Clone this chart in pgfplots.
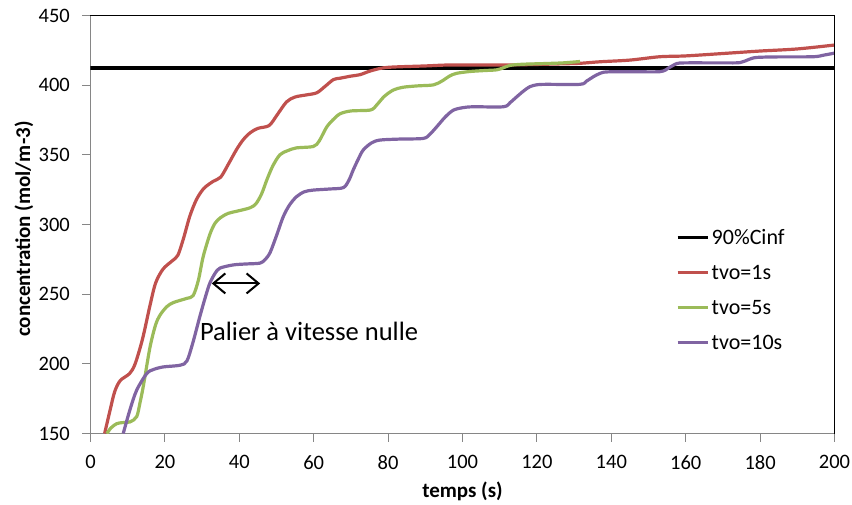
\documentclass[border=0pt]{standalone}
\usepackage{pgfplots}
\pgfplotsset{compat=1.18}
\usepackage{fontspec}
\setmainfont{Carlito}
\usetikzlibrary{arrows.meta}
\definecolor{cred}{HTML}{C0504D}
\definecolor{cgreen}{HTML}{9BBB59}
\definecolor{cpurple}{HTML}{8064A2}
\definecolor{axgray}{HTML}{868686}

\pgfplotstableread{
x y
3.8 150
5.2 166
6.5 180
8 188
10.5 193
12 200
14 218
16 242
17.5 258
19.5 268
22 274
23.5 278
25 290
26.7 306
28.5 318
30.5 326
33 331
35 334
37 343
39.3 354
41.1 361
43 366
45 369
48 371
50 378
52.7 388
55 391.5
58 393
60.8 394.5
63 399
65.3 404
67.1 405
70 406.5
72.4 407.5
75 410
77.8 412
80 412.8
83 413.2
90 413.8
96.6 414.5
108 414.5
115 414.6
125 415.2
131.6 415.7
137 416.8
145 418
153 420.4
160 421
171 422.9
180 424.5
190 426
200 428.8
}\redtab

\pgfplotstableread{
x y
4.4 150
5.5 154
7 157
8.5 157.8
10.6 158.3
12.4 162
13.3 172
14.2 184
16 212
17.5 228
18.7 235
20.5 241
22.3 244
25.9 247
27.6 249
29 260
30.3 277
32.1 293
33.5 301
35 305
37 308
39.3 309.5
42.9 312
44.5 315
46 322
47.4 332
49 342
50.9 350
53 353
55.4 355
59.9 356
61.5 360
63.5 370
65.5 376
67.1 379.5
70 381.5
75.3 382.2
77 386
79 392
81.4 396.5
84 398.5
88 399.5
92.2 400.2
94.5 403
96.5 406.5
98.4 408.5
102 409.8
106 410.5
109.2 411
111 412.5
112.8 414.2
116 415
122 415.5
127 416
131.6 417
}\greentab

\pgfplotstableread{
x y
8.8 150
10.6 167
12.4 181
15.1 193
17 196
19.6 197.8
24.1 199
25.9 202
27.5 215
29.4 234
31 249
32.1 258
33.5 265
34.8 268.7
38.4 271
42 271.7
45.6 272.3
47 275
48.3 280
50 292
51.8 305.5
53.5 314
55.4 320
57.5 323.5
59.9 324.7
64.4 325.5
68 326.5
69.5 332
70.6 339
72 347
73.3 353.4
75.5 358.5
77.8 360.6
83 361.3
89.5 361.8
91.3 365
93.1 370.2
95.3 377
97.5 382
100 383.8
102.9 384.5
111 384.5
112.8 387.5
114.6 391.7
116.5 396
118.1 398.9
120 400.3
122.6 400.6
131.6 400.6
133.4 403
135.2 406.1
137 408.5
138.8 409.5
145 409.7
153.1 409.7
155.5 412.5
157.6 415.5
160 416
170 416
174.6 416.2
177 418.5
179.1 419.9
185 420.3
194.3 420.4
197 421.5
200 423
}\purpletab

\begin{document}
\begin{tikzpicture}
\begin{axis}[
 scale only axis, width=744pt, height=418pt,
 at={(0,0)}, anchor=south west,
 xmin=0, xmax=200, ymin=150, ymax=450,
 xtick={0,20,...,200}, ytick={150,200,...,450},
 axis x line*=bottom, axis y line*=left,
 axis line style={axgray, line width=1pt, -},
 tick style={axgray, line width=1pt},
 major tick length=8pt, tick align=outside,
 /pgf/number format/assume math mode=true,
 ticklabel style={font=\fontsize{20.5}{24}\selectfont, inner sep=0pt},
 yticklabel shift=12.5pt,
 xticklabel shift=13.7pt,
 xlabel={temps (s)},
 ylabel={concentration (mol/m-3)},
 label style={font=\bfseries\fontsize{21}{25}\selectfont, inner sep=0pt},
 xlabel style={at={(axis description cs:0.5,-0.1543)}, anchor=base},
 ylabel style={at={(axis description cs:-0.0813,0.489)}, anchor=base},
 legend cell align=left,
 legend style={draw=none, fill=none, at={(rel axis cs:0.787,0.489)}, anchor=north west,
   inner sep=0pt, row sep=19pt,
   nodes={inner sep=0pt, font=\fontsize{22}{26}\selectfont, text depth=0pt}},
 legend image code/.code={\path[draw=none, fill=none] (0pt,-8pt) rectangle (34pt,8pt); \draw[#1, line width=3pt] (0pt,0pt) -- (30pt,0pt);},
 after end axis/.code={
   \draw[black, line width=1pt] (rel axis cs:0,1) -- (rel axis cs:1,1);
   \draw[black, line width=1.5pt] (rel axis cs:1,1) -- (rel axis cs:1,0);
 },
]
\addplot[black, line width=4pt] coordinates {(0,412.5) (200,412.5)};
\addlegendentry{90\%Cinf}
\addplot[cred, line width=3.2pt, smooth, tension=0.5] table {\redtab};
\addlegendentry{tvo=1s}
\addplot[cgreen, line width=3.2pt, smooth, tension=0.5] table {\greentab};
\addlegendentry{tvo=5s}
\addplot[cpurple, line width=3.2pt, smooth, tension=0.5] table {\purpletab};
\addlegendentry{tvo=10s}
\draw[{Straight Barb[length=12pt,width=20pt]}-{Straight Barb[length=12pt,width=20pt]}, line width=2pt, black]
  (axis cs:32.6,257.7) -- (axis cs:45.6,257.7);
\node[anchor=base west, inner sep=0pt, font=\fontsize{26.5}{30}\selectfont] at (axis cs:29.4,217) {Palier à vitesse nulle};
\end{axis}
\useasboundingbox (-90.5pt,-70.7pt) rectangle (761.5pt,433.5pt);
\end{tikzpicture}
\end{document}
